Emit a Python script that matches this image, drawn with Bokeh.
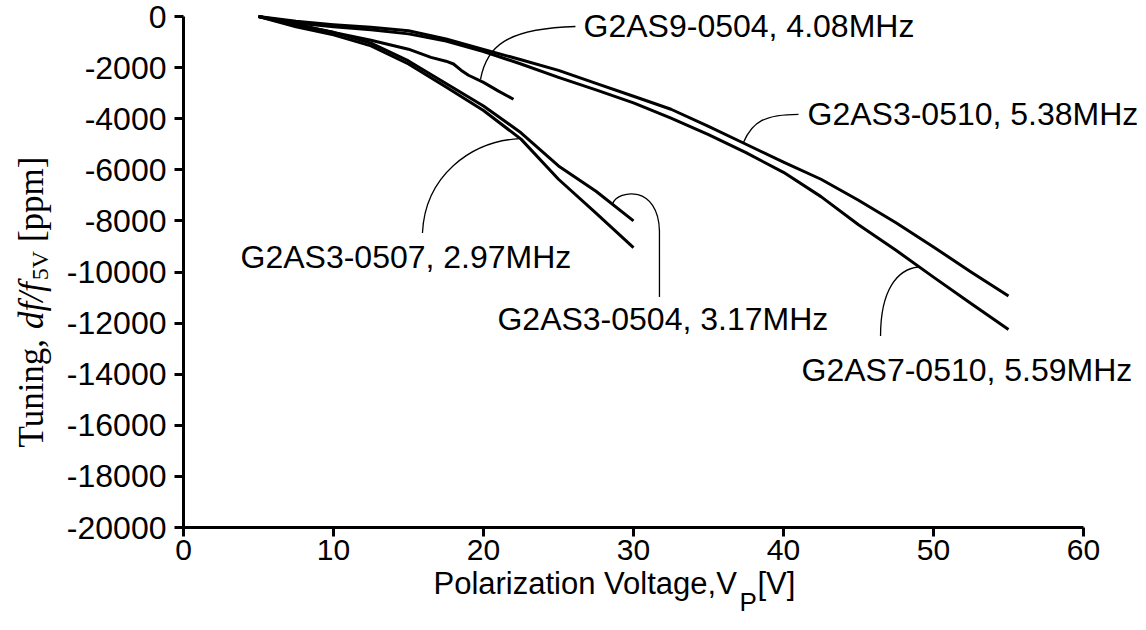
from bokeh.plotting import figure
from bokeh.models import Label, FixedTicker, Range1d
from bokeh.embed import file_html
from bokeh.resources import INLINE

# ---------------- data ----------------
v_long = [5, 7.5, 10, 12.5, 15, 17.5, 20, 22.5, 25, 27.5, 30, 32.5, 35, 37.5, 40,
          42.5, 45, 47.5, 50, 52.5, 55]
tune_g2as3_0510 = [0, -190, -320, -420, -560, -880, -1290, -1690, -2110, -2620, -3120,
                   -3630, -4300, -5000, -5700, -6370, -7190, -8070, -9020, -10000, -10940]
tune_g2as7_0510 = [0, -250, -400, -520, -680, -960, -1370, -1860, -2380, -2870, -3380,
                   -3980, -4620, -5330, -6100, -7050, -8150, -9150, -10200, -11230, -12250]

v_short = [5, 7.5, 10, 12.5, 15, 17.5, 20, 22.5, 25, 27.5, 30]
tune_g2as3_0504 = [0, -330, -620, -1040, -1740, -2620, -3500, -4550, -5850, -6840, -8000]
tune_g2as3_0507 = [0, -400, -720, -1150, -1860, -2760, -3680, -4800, -6370, -7700, -9050]

v_g2as9 = [5, 7.5, 10, 12.5, 15, 16.5, 17.5, 18, 18.5, 19, 20, 21, 22]
tune_g2as9_0504 = [0, -300, -620, -930, -1280, -1600, -1750, -1860, -2100, -2300, -2580,
                   -2920, -3240]

x_ticks = [0, 10, 20, 30, 40, 50, 60]
y_ticks = [0, -2000, -4000, -6000, -8000, -10000, -12000, -14000, -16000, -18000, -20000]
y_tick_labels = ["0", "-2000", "-4000", "-6000", "-8000", "-10000", "-12000", "-14000",
                 "-16000", "-18000", "-20000"]

series_labels = ["G2AS9-0504, 4.08MHz", "G2AS3-0510, 5.38MHz", "G2AS3-0507, 2.97MHz",
                 "G2AS3-0504, 3.17MHz", "G2AS7-0510, 5.59MHz"]
# label anchors (left, middle) in data units
label_x = [26.67, 41.6, 3.8, 20.93, 41.2]
label_y = [-391, -3828, -9414, -11836, -13828]

# leader curves (bezier) in data units
lead_x0 = [19.8, 37.33, 22.4, 28.6, 49.0]
lead_y0 = [-2461, -4930, -4780, -7330, -9805]
lead_cx0 = [20.2, 37.93, 19.13, 29.0, 47.6]
lead_cy0 = [-1172, -4100, -4883, -6760, -9883]
lead_cx1 = [21.5, 38.8, 16.1, 31.67, 46.47]
lead_cy1 = [-469, -3828, -6250, -6600, -10700]
lead_x1 = [26.13, 41.0, 15.93, 31.73, 46.47]
lead_y1 = [-391, -3828, -8477, -8398, -12500]
tail_y = -10977

# ---------------- figure ----------------
SANS = "Liberation Sans"
SERIF = "Liberation Serif"
W, H = 1146, 630
X0PX, PX = 183.0, 15.0          # pixel of V=0, pixels per volt
Y0PX, PY = 16.0, 511.0 / 20000  # pixel of 0 ppm, pixels per ppm

p = figure(width=W, height=H,
           x_range=Range1d(-X0PX / PX, (W - X0PX) / PX),
           y_range=Range1d(-(H - Y0PX) / PY, Y0PX / PY),
           output_backend="svg", toolbar_location=None, title=None,
           min_border=0, min_border_left=0, min_border_right=0,
           min_border_top=0, min_border_bottom=0)
p.outline_line_color = None
p.xgrid.visible = False
p.ygrid.visible = False
p.background_fill_color = "white"
p.border_fill_color = "white"

p.xaxis.fixed_location = -20000
p.yaxis.fixed_location = 0

for ax in (p.xaxis[0], p.yaxis[0]):
    ax.axis_line_width = 3
    ax.axis_line_color = "black"
    ax.major_tick_line_width = 3
    ax.major_tick_line_color = "black"
    ax.major_tick_in = 0
    ax.major_tick_out = 9
    ax.minor_tick_line_color = None
    ax.major_label_text_color = "black"
    ax.major_label_text_font = SANS
    ax.major_label_text_line_height = 1.0

p.xaxis.ticker = FixedTicker(ticks=x_ticks)
p.xaxis.bounds = (0, 60)
p.xaxis.major_label_text_font_size = "30px"
p.xaxis.major_label_standoff = 3

p.yaxis.ticker = FixedTicker(ticks=y_ticks)
p.yaxis.bounds = (-20000, 0)
p.yaxis.major_label_text_font_size = "32px"
p.yaxis.major_label_standoff = 8
p.yaxis.major_label_overrides = {t: s for t, s in zip(y_ticks, y_tick_labels)}

# ---------------- curves ----------------
for xs, ys in [(v_long, tune_g2as3_0510), (v_long, tune_g2as7_0510),
               (v_short, tune_g2as3_0504), (v_short, tune_g2as3_0507),
               (v_g2as9, tune_g2as9_0504)]:
    p.line(xs, ys, line_width=3, line_color="black", line_join="round")

p.bezier(x0=lead_x0, y0=lead_y0, x1=lead_x1, y1=lead_y1,
         cx0=lead_cx0, cy0=lead_cy0, cx1=lead_cx1, cy1=lead_cy1,
         line_width=1.3, line_color="black")
p.segment(x0=[lead_x1[3]], y0=[lead_y1[3]], x1=[lead_x1[3]], y1=[tail_y],
          line_width=1.3, line_color="black")

for t, lx, ly in zip(series_labels, label_x, label_y):
    p.add_layout(Label(x=lx, y=ly, text=t, text_font=SANS, text_font_size="32px",
                       text_align="left", text_baseline="middle", text_color="black"))


# ---------------- axis titles (placed in pixel terms) ----------------
def dx(px):
    return (px - X0PX) / PX


def dy(py):
    return -(py - Y0PX) / PY


p.add_layout(Label(x=dx(433), y=dy(583), text="Polarization Voltage,V", text_font=SANS,
                   text_font_size="31px", text_align="left", text_baseline="middle",
                   text_color="black"))
p.add_layout(Label(x=dx(739), y=dy(601), text="P", text_font=SANS,
                   text_font_size="26px", text_align="left", text_baseline="middle",
                   text_color="black"))
p.add_layout(Label(x=dx(757), y=dy(583), text="[V]", text_font=SANS,
                   text_font_size="31px", text_align="left", text_baseline="middle",
                   text_color="black"))

F = 35
SUB = 24
base_x = 31
# (text, style, size, baseline shift px, advance px)
pieces = [("Tuning,", "normal", F, 0, 3.139 * F + 0.25 * F),
          ("df/f", "italic", F, 0, 1.334 * F + 2),
          ("5V", "normal", SUB, 8, 1.222 * SUB + 0.25 * F),
          ("[ppm]", "normal", F, 0, 2.444 * F)]
ypos = 447
for txt, style, size, shift, w in pieces:
    p.add_layout(Label(x=dx(base_x + shift), y=dy(ypos), text=txt, text_font=SERIF,
                       text_font_style=style, text_font_size=f"{size}px",
                       text_align="left", text_baseline="alphabetic",
                       angle=90, angle_units="deg", text_color="black"))
    ypos -= w

open("out.html", "w").write(file_html(p, INLINE))
